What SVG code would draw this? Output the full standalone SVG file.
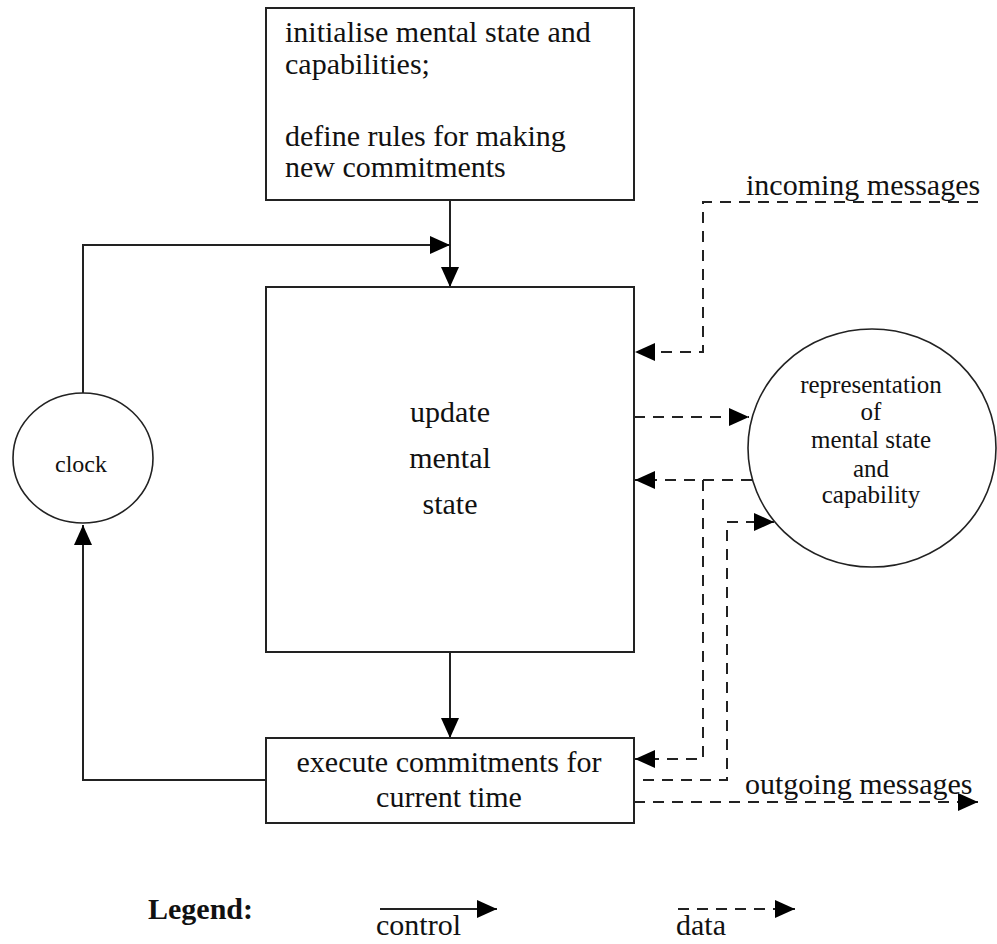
<svg xmlns="http://www.w3.org/2000/svg" width="997" height="944" viewBox="0 0 997 944">
<defs>
<marker id="ah" markerUnits="userSpaceOnUse" markerWidth="22" markerHeight="20" refX="20" refY="9" orient="auto">
<path d="M0,0 L20,9 L0,18 Z" fill="#000"/>
</marker>
<style>
.box{fill:#fff;stroke:#222;stroke-width:2}
.circ{fill:#fff;stroke:#222;stroke-width:1.6}
.ctl{fill:none;stroke:#222;stroke-width:2}
.dat{fill:none;stroke:#222;stroke-width:2;stroke-dasharray:11 8}
.t{font-family:"Liberation Serif","Times New Roman",serif;font-size:30px;fill:#111}
.s{font-family:"Liberation Serif","Times New Roman",serif;font-size:25px;fill:#111}
.c{text-anchor:middle}
.b{font-weight:bold}
</style>
</defs>
<rect width="997" height="944" fill="#fff"/>

<g id="connectors">
<path class="ctl" d="M450,200 V287" marker-end="url(#ah)"/>
<path class="ctl" d="M83,393 V245 H450" marker-end="url(#ah)"/>
<path class="ctl" d="M450,652 V738" marker-end="url(#ah)"/>
<path class="ctl" d="M266,780 H83 V525" marker-end="url(#ah)"/>
<path class="dat" d="M978,202 H703 V352 H635" marker-end="url(#ah)"/>
<path class="dat" d="M634,417 H749" marker-end="url(#ah)"/>
<path class="dat" d="M752,480 H635" marker-end="url(#ah)"/>
<path class="dat" d="M703,480 V759 H635" marker-end="url(#ah)"/>
<path class="dat" d="M643,780 H727 V522 H774" marker-end="url(#ah)"/>
<path class="dat" d="M634,802 H978" marker-end="url(#ah)"/>
</g>

<g id="init">
<rect class="box" x="266" y="8" width="368" height="192"/>
<text class="t" x="285" y="42">initialise mental state and</text>
<text class="t" x="285" y="74">capabilities;</text>
<text class="t" x="285" y="146">define rules for making</text>
<text class="t" x="285" y="177">new commitments</text>
</g>

<g id="update">
<rect class="box" x="266" y="287" width="368" height="365"/>
<text class="t c" x="450" y="422">update</text>
<text class="t c" x="450" y="468">mental</text>
<text class="t c" x="450" y="514">state</text>
</g>

<g id="execute">
<rect class="box" x="266" y="738" width="368" height="85"/>
<text class="t c" x="449" y="772">execute commitments for</text>
<text class="t c" x="449" y="807">current time</text>
</g>

<g id="clock">
<ellipse class="circ" cx="83" cy="458" rx="70" ry="65"/>
<text class="s c" x="81" y="472" style="font-size:24px">clock</text>
</g>

<g id="representation">
<ellipse class="circ" cx="872" cy="448" rx="124" ry="119"/>
<text class="s c" x="871" y="393">representation</text>
<text class="s c" x="871" y="420">of</text>
<text class="s c" x="871" y="448">mental state</text>
<text class="s c" x="871" y="477">and</text>
<text class="s c" x="871" y="503">capability</text>
</g>

<g id="labels">
<text class="t" x="746" y="195">incoming messages</text>
<text class="t" x="745" y="794">outgoing messages</text>
</g>

<g id="legend">
<text class="t b" x="148" y="919">Legend:</text>
<path class="ctl" d="M380,909 H497" marker-end="url(#ah)"/>
<text class="t" x="376" y="935">control</text>
<path class="dat" d="M678,909 H795" marker-end="url(#ah)"/>
<text class="t" x="676" y="935">data</text>
</g>
</svg>
